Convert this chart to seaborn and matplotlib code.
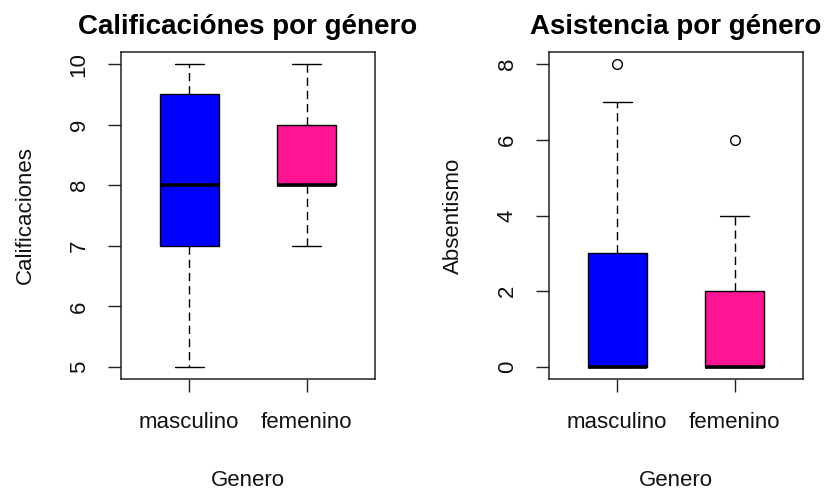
import numpy as np
import pandas as pd
import matplotlib
matplotlib.use("Agg")
import matplotlib.pyplot as plt
import seaborn as sns

sns.set_style("white")
plt.rcParams['font.family'] = ['Liberation Sans', 'DejaVu Sans']

# Data (values chosen to reproduce the boxplot summary)
generos = ["masculino", "femenino"]
calif_masculino = [5, 6, 7, 7, 8, 9, 9.5, 10, 10]
calif_femenino = [7, 8, 8, 8, 8, 8, 9, 10, 10]
ausencias_masculino = [0, 0, 0, 0, 0, 2, 3, 7, 8]
ausencias_femenino = [0, 0, 0, 0, 0, 1, 2, 4, 6]
colores = ["#0000FF", "#FF1493"]

df_cal = pd.DataFrame({
    "Genero": [generos[0]] * len(calif_masculino) + [generos[1]] * len(calif_femenino),
    "Calificaciones": calif_masculino + calif_femenino,
})
df_aus = pd.DataFrame({
    "Genero": [generos[0]] * len(ausencias_masculino) + [generos[1]] * len(ausencias_femenino),
    "Absentismo": ausencias_masculino + ausencias_femenino,
})

fig = plt.figure(figsize=(8.25, 4.91), dpi=100)
W, H = 825, 491
ax1 = fig.add_axes([121 / W, (H - 379) / H, 254 / W, 327 / H])
ax2 = fig.add_axes([549 / W, (H - 379) / H, 254 / W, 327 / H])

common = dict(
    x="Genero", hue="Genero", palette=colores, order=generos, hue_order=generos,
    width=0.5, dodge=False, legend=False, whis=1.5, linecolor="black", linewidth=1,
    boxprops=dict(edgecolor="black", linewidth=1),
    whiskerprops=dict(color="black", linewidth=1, linestyle=(0, (6, 3.5))),
    capprops=dict(color="black", linewidth=1),
    medianprops=dict(color="black", linewidth=2.6),
    flierprops=dict(marker="o", markerfacecolor="none", markeredgecolor="black",
                    markersize=7, markeredgewidth=1),
    saturation=1,
)

sns.boxplot(data=df_cal, y="Calificaciones", ax=ax1, **common)
sns.boxplot(data=df_aus, y="Absentismo", ax=ax2, **common)

txt = "#111111"
for ax, ylim, yticks, title, ylabel in [
    (ax1, (4.8, 10.2), [5, 6, 7, 8, 9, 10], "Calificaciónes por género", "Calificaciones"),
    (ax2, (-0.32, 8.32), [0, 2, 4, 6, 8], "Asistencia por género", "Absentismo"),
]:
    ax.set_xlim(0.42 - 1, 2.58 - 1)
    ax.set_ylim(*ylim)
    ax.set_yticks(yticks)
    ax.set_yticklabels([str(t) for t in yticks], rotation=90, va="center")
    ax.set_xticks([0, 1])
    ax.set_xticklabels(generos)
    ax.tick_params(axis="both", which="major", direction="out", length=9.5, width=1,
                   color="#222222", labelsize=16, labelcolor=txt, left=True, bottom=True)
    ax.tick_params(axis="y", pad=13)
    ax.tick_params(axis="x", pad=14)
    for s in ax.spines.values():
        s.set_visible(True)
        s.set_color("#222222")
        s.set_linewidth(1.1)
    ax.set_title(title, fontsize=20, fontweight="bold", color="black", pad=13)
    ax.set_xlabel("Genero", fontsize=16, color=txt, labelpad=27)
    ax.set_ylabel(ylabel, fontsize=16, color=txt, labelpad=23.5)

fig.savefig("out.png", dpi=100, facecolor="white")
